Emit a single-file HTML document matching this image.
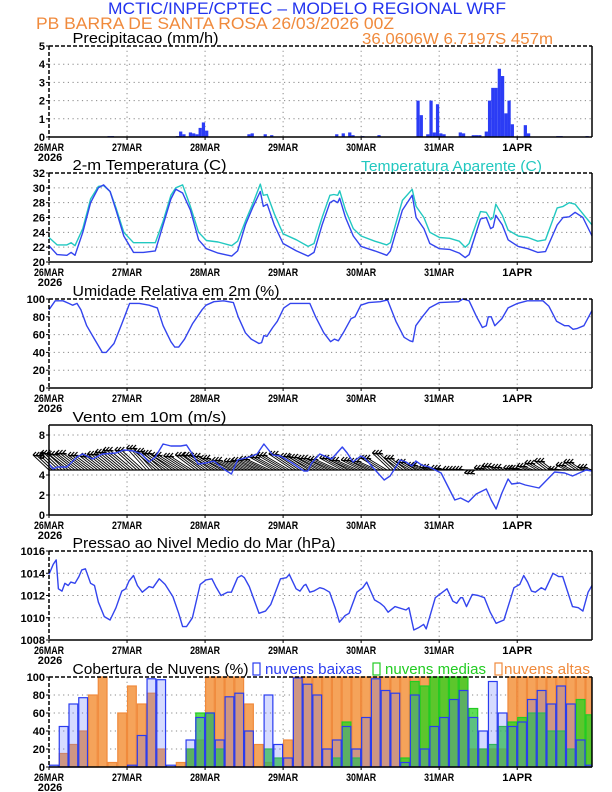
<!DOCTYPE html>
<html><head><meta charset="utf-8"><style>
html,body{margin:0;padding:0;background:#fff}
svg{display:block}
text{font-family:"Liberation Sans",sans-serif}
</style></head><body>
<svg id="chart" xmlns="http://www.w3.org/2000/svg" width="612" height="792" viewBox="0 0 612 792">
<rect x="0" y="0" width="612" height="792" fill="#fff"/>
<text x="108" y="14" font-size="17" fill="#2233ee" textLength="398" lengthAdjust="spacingAndGlyphs">MCTIC/INPE/CPTEC – MODELO REGIONAL WRF</text>
<text x="36" y="29" font-size="17" fill="#f08a3c" textLength="358" lengthAdjust="spacingAndGlyphs">PB BARRA DE SANTA ROSA   26/03/2026 00Z</text>
<text x="362" y="44" font-size="16" fill="#f08a3c" textLength="191" lengthAdjust="spacingAndGlyphs">36.0606W 6.7197S 457m</text>
<text x="361" y="171" font-size="15" fill="#22c8c0" textLength="181" lengthAdjust="spacingAndGlyphs">Temperatura Aparente (C)</text>
<g id="plots"></g>
</svg>
<script>
// ---- data (hours since 26MAR 00Z) ----
const dayLabels=["26MAR","27MAR","28MAR","29MAR","30MAR","31MAR","1APR"];
const prH=[18,19,39,40,41,43,44,45,46,47,48,61,62,66,68,88,90,92,93,96,101,113,114,116,117,118,119,120,121,126,127,130,131,132,134,135,136,137,138,139,140,141,142,146,147,156,157,165];
const prV=[0.05,0.05,0.05,0.3,0.15,0.25,0.2,0.15,0.5,0.8,0.35,0.15,0.2,0.15,0.1,0.15,0.2,0.25,0.1,0.05,0.1,2,1.2,0.15,2,0.25,1.8,0.2,0.15,0.25,0.2,0.1,0.1,0.1,0.3,2,2.7,2.7,3.75,3.35,1.3,2,0.7,0.65,0.2,0.05,0.05,0.05];
const tempH=[0,2.5,5.5,6.8,8,10.4,12.8,15.2,16.8,18.8,20.6,23,26,29,32.7,35.1,37.5,39,41.1,43.5,46,48.4,52,56.2,58,60.4,62.8,65,65.9,67.1,69.3,72,76.1,79.7,81.5,84,86.4,87.6,88.8,89.4,91.2,93.6,96,100.2,103.9,105,108.7,111.7,112.9,115.3,117.1,120.1,123.2,126.2,128,129.2,132.7,134.5,135.8,136.6,137.4,139.4,141.2,144.3,147.3,150.3,152.7,156.3,158.1,160,161.8,164.2,167];
const tempV=[22.2,21,20.9,21.3,20.9,24,28,30,30.4,29.5,27,23.5,21.3,21.3,21.5,25,28.5,29.8,29.3,27,23,21.8,21.2,20.8,21.5,25,27.5,29.5,27.5,27.8,25,22.5,21.5,20.8,21.3,25,28,28.3,28,28.6,26,23.5,22.1,21.5,20.9,21.5,27,29,26,24.5,22.5,21.8,21.7,21.2,20.6,21,25.8,26,24.5,24.7,26.3,25,23,22.1,21.8,21.3,21.4,25,26,26.1,26.7,26,23.5];
const appV=[23.3,22.3,22.3,22.6,22.2,24.5,28.5,30.2,30.3,29.5,27.3,24,22.6,22.6,22.6,25.5,29,30,30.4,27.5,24,22.9,22.7,22.2,22.8,25.5,28,30.5,29,29.1,26.5,23.8,23,22.1,22.5,26,29,29.1,29,29.6,27,24.5,23.5,22.8,22.3,22.6,28.3,29.8,27.5,26,24,23.3,23.2,22.8,22,22.5,26.8,26.7,25.7,26,27.8,26.3,24.3,23.5,23.3,22.8,23,27.3,27.5,28,27.8,26.5,25];
const rhH=[0,1.9,4.3,6.1,7.3,8.6,9.8,11.6,14,16.4,17.6,20,22.4,24.8,27.8,30.8,33.3,35.1,37.5,38.7,39.9,41.7,44.1,47.1,48.3,50.7,53.7,56.7,58.2,60.4,62.2,64.6,65.4,66.1,67,68.8,70.2,72.2,74.2,78.4,80.2,82,84.5,86.6,87.8,89,90.5,92.9,94.1,95.9,98.3,101.9,104.1,106.7,109.2,111,111.9,112.8,114.8,117,120,126,127.3,129.2,131.5,133.3,134.5,135.1,136,137.1,139.3,141.2,144.1,147.1,151.9,153.7,156.1,158.6,159.8,161.2,162.5,164.5,167];
const rhV=[88,98,98,95,93,95,88,70,55,40,40,50,72,95,95,93,90,70,52,46,46,55,72,88,93,97,98,96,80,62,55,50,51,59,58,68,75,90,95,95,95,80,62,52,55,53,62,78,80,93,96,97,99,75,57,53,52,70,80,90,96,97,100,98,80,68,70,80,80,70,78,90,95,98,98,92,75,70,70,66,67,70,87];
const wsH=[0,1.3,2.5,5.5,8.6,10.4,13.4,16.4,20.6,23,26,28.4,30.8,32.7,35.1,37.5,40.5,42.3,44.1,45.9,48.3,50.7,53.7,56.1,58,61.6,64,66.1,68.8,71.2,74.8,78.4,79.6,80.8,83.3,86.9,90.2,91.7,93.5,95.9,97.1,99.5,103.1,104.9,108,109.8,111.6,112.8,114.6,117,120.6,124.8,126.6,129,131.4,134.5,136,137.5,139.3,141.2,142.3,144.7,146.5,150.7,155.5,158.6,161,165.2,167];
const wsV=[5.1,4.6,4.8,4.8,5.8,6.1,5.6,6.1,6.2,6.5,6.4,6.1,5.3,5.8,7.1,6.9,6.9,7,6.1,5.1,5.2,5.4,4.6,4.1,5.5,5.8,6.1,7.1,6,5.9,5.2,4.4,4.4,5.2,6.1,5.6,6.8,6.2,5.3,5.9,5.7,4.8,3.5,3.9,5.5,5.3,4.9,5.4,5,4.8,4.2,1.5,1.7,1.3,2.1,2.6,1.5,0.6,2.2,3.6,3.1,3.2,3,2.7,4.3,4.2,3.9,4.5,4.4];
const windU=[-4,-4.5,-5,-5.5,-5,-4.5,-5,-5.5,-6,-5.5,-5,-5.5,-6,-6,-5.5,-5,-5.5,-6,-6,-5.5,-5,-5.5,-6,-6,-6.5,-6,-5.5,-6,-6,-6,-5.5,-5.5,-5,-5,-5,-4.5,-4,-3.5,-3,-2.5,-2,-1.5,-1.5,-1,-1,-1.5,-1.5,-1,-2,-2.5,-3,-3,-2,-2.5,-3,-2];
const windV=[1.5,1.7,1.6,1.7,1.5,1.4,1.6,1.8,2,2,2.2,1.9,1.7,1.5,1.4,1.5,1.5,1.4,1.2,1,0.9,1,1.1,1.3,1.5,1.6,1.4,1.3,1.2,1.1,1.2,1,1,0.9,1.2,1.7,1.2,0.8,0.5,0.3,0.2,0.1,0.1,-0.3,0.2,0.4,0.3,0.2,0.2,0.4,0.7,0.9,0.1,0.5,0.8,0.3];
const pH=[0,1.3,2.2,2.9,4,4.9,5.9,6.7,8,9.2,10.1,11.2,12.8,14,15.2,17,18.8,20.6,22.4,23.6,24.6,26,27.2,28.7,30.8,32,33.9,35.7,38.1,39.9,41.1,42.3,44.1,46.5,48.3,50.1,51.3,52.9,54.9,56.1,58,59.2,60.1,61.6,64.6,66.6,68.2,71.2,73,73.9,76,77.2,78.4,79,80.2,81.4,83.3,84.5,86.3,88.1,89.3,91.1,92.3,94.7,96.5,97.7,100.1,101.9,103.1,104.3,106.4,109.8,110.7,112.2,113.6,115.2,116,118.8,122.4,124.2,125.4,126.6,127.2,128.4,130.2,132,133.9,135.7,137.5,139.9,141.2,143,144.8,146,147.2,148.4,149.6,151.4,152.6,155,156.8,158,161,162.8,164.2,165.8,167];
const pV=[1013.9,1014.8,1015.2,1012.6,1012.4,1013.1,1012.9,1013.2,1013.1,1013.7,1014.3,1014.4,1013.1,1012.9,1011.4,1010.1,1009.8,1010.9,1012.4,1012.6,1013.3,1013.8,1012.9,1012.3,1012.8,1012.7,1013.5,1013,1011.9,1010.4,1009.2,1009.2,1010,1013,1013.4,1013.5,1012.8,1012,1012.3,1012.3,1013.6,1013.8,1013.6,1012.8,1010.4,1010.6,1011.2,1013.5,1013.6,1013.9,1012.6,1012.4,1012.9,1013,1012.3,1012.4,1012.7,1012.6,1012.3,1010.8,1009.6,1010.2,1010.4,1012.3,1012.7,1013.2,1011.6,1011.3,1011,1010.5,1011,1010.7,1010.9,1008.9,1009.1,1009.4,1009,1011.8,1012.6,1011.5,1011.3,1011.8,1011.8,1011,1012.1,1012,1011.8,1010.5,1009.5,1009.8,1011,1012.7,1013,1013.8,1013.2,1012.4,1012.3,1012.7,1012.5,1014,1013.7,1013.7,1011,1010.9,1010.6,1012.3,1012.9];
const cloudLow=[2,45,70,77,0,0,0,0,2,35,98,97,2,0,30,55,60,30,78,82,40,0,80,25,10,99,92,80,20,30,45,20,55,98,85,82,5,80,20,45,55,75,85,55,40,95,60,45,50,75,85,70,90,70,30,2];
const cloudMed=[0,0,0,0,0,0,0,0,0,0,0,0,0,0,20,60,60,20,0,0,0,0,20,10,0,0,0,0,0,10,50,10,0,0,0,0,10,95,90,100,100,100,100,65,20,25,45,50,55,60,60,40,40,20,75,58];
const cloudHigh=[0,15,25,40,80,100,5,60,90,70,82,20,0,5,20,30,100,100,100,100,70,25,5,0,30,100,100,100,100,100,100,100,100,100,100,100,100,100,100,100,100,100,100,20,20,20,20,100,100,100,100,100,100,100,100,100];
const ticksPr=[0,1,2,3,4,5], ticksT=[20,22,24,26,28,30,32], ticksRH=[0,20,40,60,80,100], ticksW=[0,2,4,6,8], ticksP=[1008,1010,1012,1014,1016], ticksC=[0,20,40,60,80,100];

// ---- layout ----
const NS="http://www.w3.org/2000/svg";
const X0=49,X1=592,HMAX=167;
const xS=h=>X0+(h/HMAX)*(X1-X0);
const root=document.getElementById('plots');
function el(tag,attrs,parent){const e=document.createElementNS(NS,tag);for(const k in attrs)e.setAttribute(k,attrs[k]);(parent||root).appendChild(e);return e;}
function yScaleFn(p){return v=>p.bot-(v-p.min)/(p.max-p.min)*(p.bot-p.top);}
function panel(p,name,title,titleLen,ticks){
  const g=el('g',{});
  
  
  const y=yScaleFn(p);
  ticks.forEach(t=>{if(y(t)>p.top+1&&y(t)<p.bot-1){const l=el('line',{x1:X0,x2:X1,y1:y(t),y2:y(t),stroke:'#888','stroke-width':1,'stroke-dasharray':'1.2,3.5'},g);}
    const tx=el('text',{x:45,y:y(t)+4,'font-size':11,'font-weight':'bold','text-anchor':'end',fill:'#000'},g);tx.textContent=t;
    
    el('line',{x1:X0-3,x2:X0,y1:y(t),y2:y(t),stroke:'#000','stroke-width':1},g);});
  for(let d=1;d<7;d++){const gx=xS(d*24);const l=el('line',{x1:gx,x2:gx,y1:p.top,y2:p.bot,stroke:'#888','stroke-width':1,'stroke-dasharray':'1.2,3.5'},g);}
  dayLabels.forEach((dl,d)=>{const tx=el('text',{x:xS(d*24),y:p.bot+14,'font-size':11,'font-weight':'bold','text-anchor':'middle',fill:'#000',textLength:30,lengthAdjust:'spacingAndGlyphs'},g);tx.textContent=dl;
    
    el('line',{x1:xS(d*24),x2:xS(d*24),y1:p.bot,y2:p.bot+3,stroke:'#000'},g);});
  const yr=el('text',{x:50,y:p.bot+24,'font-size':11,'font-weight':'bold','text-anchor':'middle',fill:'#000'},g);yr.textContent='2026';
  
  const tt=el('text',{x:72.5,y:p.top-3,'font-size':15,fill:'#000',textLength:titleLen,lengthAdjust:'spacingAndGlyphs'},g);tt.textContent=title;
  
  p.g=g;p.y=y;return p;
}
function frame(p,solid){
  const g=p.g;
  el('line',{x1:X1,x2:X1,y1:p.top,y2:p.bot,stroke:'#000','stroke-width':1.5},g);
  el('line',{x1:X0,x2:X1,y1:p.bot,y2:p.bot,stroke:'#000','stroke-width':1.5},g);
  const da=solid?'none':'4,2';
  el('line',{x1:X0,x2:X1,y1:p.top,y2:p.top,stroke:'#000','stroke-width':1.5,'stroke-dasharray':da},g);
  el('line',{x1:X0,x2:X0,y1:p.top,y2:p.bot,stroke:'#000','stroke-width':1.5,'stroke-dasharray':da},g);
}
function line(p,hs,vs,color,name){
  const n=Math.min(hs.length,vs.length);let d='';
  for(let i=0;i<n;i++)d+=(i?'L':'M')+xS(hs[i]).toFixed(1)+','+p.y(Math.max(p.min,Math.min(p.max,vs[i]))).toFixed(1);
  const l=el('path',{d:d,fill:'none',stroke:color,'stroke-width':1.4,'stroke-linejoin':'round'},p.g);
  
  
}

// Precip
const P1=panel({top:46,bot:137,min:0,max:5},'precip','Precipitacao (mm/h)',146,ticksPr);
prH.forEach((h,i)=>{const b=el('rect',{x:xS(h),y:P1.y(prV[i]),width:xS(1)-xS(0),height:P1.bot-P1.y(prV[i]),fill:'#2b3cf5'},P1.g);
  
  });
frame(P1);
// Temp
const P2=panel({top:173,bot:262,min:20,max:32},'temperature','2-m Temperatura (C)',154,ticksT);
line(P2,tempH,appV,'#22c8c0','apparent-temp-line');
line(P2,tempH,tempV,'#3344ee','temp-line');
frame(P2);
// RH
const P3=panel({top:299,bot:388,min:0,max:100},'humidity','Umidade Relativa em 2m (%)',207,ticksRH);
line(P3,rhH,rhV,'#3344ee','rh-line');
frame(P3);
// Wind
const P4=panel({top:425,bot:515,min:0,max:9},'wind','Vento em 10m (m/s)',154,ticksW);
const base=4.5;
el('line',{x1:X0,x2:X1,y1:P4.y(base),y2:P4.y(base),stroke:'#000','stroke-width':1.2},P4.g);
windU.forEach((u,i)=>{for(let k=0;k<3;k++){const hx=xS(i*3+k);if(hx>X1)continue;const tx=hx+u*4;const ty=P4.y(base+windV[i]);
  const a=el('line',{x1:hx,y1:P4.y(base),x2:tx,y2:ty,stroke:'#000','stroke-width':0.9},P4.g);
  
  
  el('line',{x1:tx,y1:ty,x2:tx+3,y2:ty-3,stroke:'#000','stroke-width':1.2},P4.g);
  el('line',{x1:tx,y1:ty,x2:tx+4,y2:ty+1,stroke:'#000','stroke-width':1.2},P4.g);}});
line(P4,wsH,wsV,'#3344ee','wind-speed-line');
frame(P4,true);
// Pressure
const P5=panel({top:551,bot:640,min:1008,max:1016},'pressure','Pressao ao Nivel Medio do Mar (hPa)',263,ticksP);
line(P5,pH,pV,'#3344ee','pressure-line');
frame(P5);
// Clouds
const P6=panel({top:677,bot:767,min:0,max:100},'cloud','Cobertura de Nuvens (%)',176,ticksC);
const bw=xS(3)-xS(0);
function bars(vals,fill,stroke,name){vals.forEach((v,i)=>{if(v<=0)return;const x=xS(i*3);if(x>=X1)return;
  const w=Math.min(bw,X1-x);
  const b=el('rect',{x:x+0.5,y:P6.y(v),width:w-1,height:P6.bot-P6.y(v),fill:fill,stroke:stroke,'stroke-width':1.2},P6.g);
  
  });}
bars(cloudHigh,'#f5a35a','#f08a3c','cloud-high-bar');
bars(cloudMed,'rgba(40,210,30,0.75)','#22cc22','cloud-mid-bar');
bars(cloudLow,'rgba(90,110,255,0.25)','#2a3cf0','cloud-low-bar');
frame(P6);
// cloud legend
[[253,265,97,'#2a3cf0','nuvens baixas','legend-low'],[373,385,101,'#22cc22','nuvens medias','legend-mid'],[495,504,86,'#f08a3c','nuvens altas','legend-high']].forEach(L=>{
  const r=el('rect',{x:L[0],y:663,width:7,height:12,fill:'none',stroke:L[3],'stroke-width':1.2});
  
  
  const t=el('text',{x:L[1],y:674,'font-size':15,fill:L[3],textLength:L[2],lengthAdjust:'spacingAndGlyphs'});t.textContent=L[4];
  
  
});
</script>
</body></html>
